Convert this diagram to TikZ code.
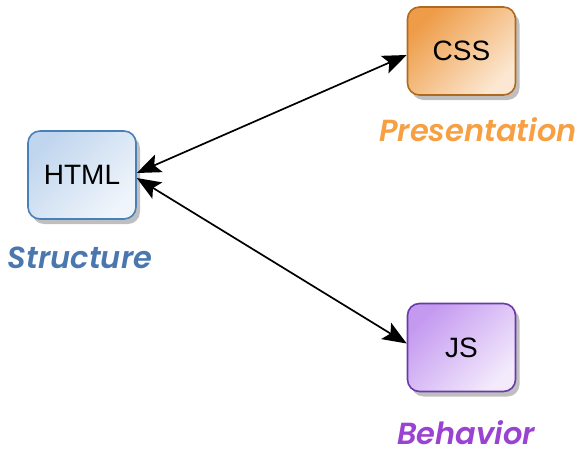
\documentclass[tikz,border=0pt]{standalone}
\usepackage{fontspec}
\setmainfont{Liberation Sans}
\setsansfont{Poppins}[BoldItalicFont={Poppins SemiBold Italic}]
\usetikzlibrary{arrows.meta,shadows}
\definecolor{htmlline}{HTML}{4A80B8}
\definecolor{htmltop}{HTML}{C0D6EE}
\definecolor{htmlbot}{HTML}{F0F5FB}
\definecolor{cssline}{HTML}{B06A20}
\definecolor{csstop}{HTML}{EE9C48}
\definecolor{cssbot}{HTML}{FCE8D2}
\definecolor{jsline}{HTML}{6A3AA8}
\definecolor{jstop}{HTML}{C499F0}
\definecolor{jsbot}{HTML}{F3EAFC}
\definecolor{structcol}{HTML}{4A78AE}
\definecolor{prescol}{HTML}{F6A043}
\definecolor{behavcol}{HTML}{9A42D2}
\tikzset{
  techbox/.style={rectangle, rounded corners=12pt, line width=1.6pt,
    minimum width=108pt, minimum height=88pt, font=\fontsize{28}{32}\selectfont,
    drop shadow={shadow xshift=4pt, shadow yshift=-5pt, opacity=.5}},
  boxfill/.style 2 args={top color=#1, bottom color=#2, shading angle=45},
  rolelabel/.style={font=\sffamily\bfseries\itshape\fontsize{30.5}{34}\selectfont},
  link/.style={line width=1.7pt, >={Stealth[length=24pt,width=19pt,inset=5pt]}, <->}
}
\begin{document}
\begin{tikzpicture}[x=1pt,y=-1pt]
\useasboundingbox (0,0) rectangle (579,455);
\node[techbox, draw=htmlline, boxfill={htmltop}{htmlbot}] (html) at (82,175) {HTML};
\node[techbox, draw=cssline, boxfill={csstop}{cssbot}] (css) at (461.5,51) {CSS};
\node[techbox, draw=jsline, boxfill={jstop}{jsbot}] (js) at (461.5,347.5) {JS};
\node[rolelabel, text=structcol] (structure) at (80,258) {Structure};
\node[rolelabel, text=prescol] (presentation) at (478,130) {Presentation};
\node[rolelabel, text=behavcol] (behavior) at (466,433) {Behavior};
\draw[link] ([yshift=2pt]html.east) -- ([yshift=-4pt]css.west);
\draw[link] ([yshift=-3pt]html.east) -- ([yshift=4pt]js.west);
\end{tikzpicture}
\end{document}
